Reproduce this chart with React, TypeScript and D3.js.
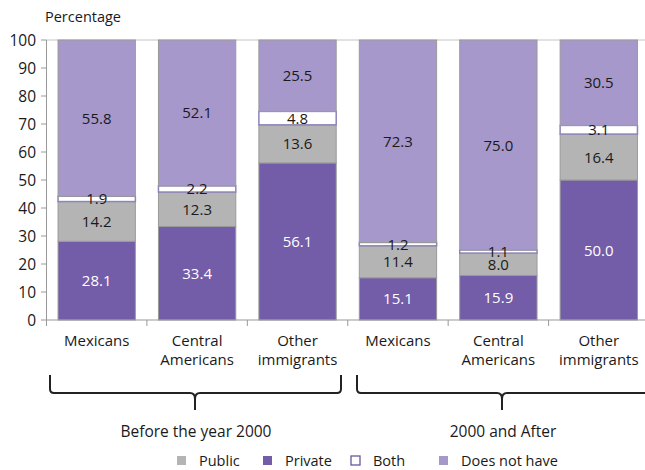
import React from "react";
import * as d3 from "d3";

const categories = ["Mexicans", "Central Americans", "Other immigrants", "Mexicans ", "Central Americans ", "Other immigrants "];
const categoryLines = [["Mexicans"], ["Central", "Americans"], ["Other", "immigrants"], ["Mexicans"], ["Central", "Americans"], ["Other", "immigrants"]];
const privateVals = [28.1, 33.4, 56.1, 15.1, 15.9, 50.0];
const publicVals = [14.2, 12.3, 13.6, 11.4, 8.0, 16.4];
const bothVals = [1.9, 2.2, 4.8, 1.2, 1.1, 3.1];
const noneVals = [55.8, 52.1, 25.5, 72.3, 75.0, 30.5];
const yTicks = [0, 10, 20, 30, 40, 50, 60, 70, 80, 90, 100];
const groups = [
  { label: "Before the year 2000", from: 0, to: 2 },
  { label: "2000 and After", from: 3, to: 5 },
];
const seriesNames = ["Private", "Public", "Both", "Does not have"];
const legendOrder = ["Public", "Private", "Both", "Does not have"];

const colors: Record<string, string> = {
  Private: "#735ca8",
  Public: "#b4b4b4",
  Both: "#ffffff",
  "Does not have": "#a698cb",
};
const textColors: Record<string, string> = {
  Private: "#ffffff",
  Public: "#1a1a1a",
  Both: "#1a1a1a",
  "Does not have": "#1a1a1a",
};

const FONT = "'Open Sans', sans-serif";

export default function App() {
  const W = 645, H = 470;
  const y = d3.scaleLinear().domain([0, 100]).range([320, 40]);
  const x = d3.scaleBand().domain(categories).range([46.5, 649]).paddingInner(0.23).paddingOuter(0.115);
  const step = x.step();
  const rows = categories.map((c, i) => ({
    cat: c,
    Private: privateVals[i],
    Public: publicVals[i],
    Both: bothVals[i],
    "Does not have": noneVals[i],
  }));
  const stacked = d3.stack<any>().keys(seriesNames)(rows);

  const braceY = 393;
  const brace = (x0: number, x1: number, xm: number) => {
    const p = d3.path();
    p.moveTo(x0, 375);
    p.lineTo(x0, braceY - 4);
    p.quadraticCurveTo(x0, braceY, x0 + 4, braceY);
    p.lineTo(xm - 5, braceY);
    p.quadraticCurveTo(xm, braceY, xm, braceY + 6);
    p.lineTo(xm, 410);
    p.moveTo(xm, braceY + 6);
    p.quadraticCurveTo(xm, braceY, xm + 5, braceY);
    p.lineTo(x1 - 4, braceY);
    p.quadraticCurveTo(x1, braceY, x1, braceY - 4);
    p.lineTo(x1, 375);
    return p.toString();
  };

  const boundaries = d3.range(categories.length + 1).map((i) => 46.5 + i * step);
  const legendX = [177, 263, 351, 439];

  return (
    <svg width={W} height={H} style={{ position: "absolute", left: 0, top: 0 }} fontFamily={FONT}>
      <rect width={W} height={H} fill="#fff" />
      <text x={45} y={22} fontSize={14.5} fill="#1a1a1a">Percentage</text>
      {/* top border */}
      <line x1={46.5} x2={W} y1={y(100)} y2={y(100)} stroke="#c4c4c4" strokeWidth={1} />
      {/* bars */}
      {stacked.map((s) => (
        <g key={s.key}>
          {s.map((d, i) => (
            <rect
              key={i}
              x={x(categories[i])!}
              width={x.bandwidth()}
              y={y(d[1])}
              height={y(d[0]) - y(d[1])}
              fill={colors[s.key]}
              stroke={s.key === "Both" ? "#8f84b8" : "#9a9a9a"}
              strokeWidth={s.key === "Both" ? 1.5 : 1}
            />
          ))}
        </g>
      ))}
      {stacked.map((s) => (
        <g key={s.key + "l"}>
          {s.map((d, i) => (
            <text
              key={i}
              x={x(categories[i])! + x.bandwidth() / 2}
              y={y((d[0] + d[1]) / 2) + 5.5}
              textAnchor="middle"
              fontSize={15}
              fill={textColors[s.key]}
            >
              {(d[1] - d[0]).toFixed(1)}
            </text>
          ))}
        </g>
      ))}
      {/* y axis */}
      <line x1={46.5} x2={46.5} y1={y(100)} y2={y(0)} stroke="#999" />
      {yTicks.map((t) => (
        <g key={t}>
          <line x1={41} x2={46.5} y1={y(t)} y2={y(t)} stroke="#999" />
          <text x={36} y={y(t) + 5.5} textAnchor="end" fontSize={15.5} fill="#1a1a1a">{t}</text>
        </g>
      ))}
      {/* x axis */}
      <line x1={46.5} x2={W} y1={y(0)} y2={y(0)} stroke="#999" />
      {boundaries.map((b, i) => (
        <line key={i} x1={b} x2={b} y1={y(0)} y2={y(0) + 6} stroke="#999" />
      ))}
      {categories.map((c, i) => (
        <text key={c} textAnchor="middle" fontSize={15} fill="#1a1a1a">
          {categoryLines[i].map((ln, j) => (
            <tspan key={j} x={x(c)! + x.bandwidth() / 2} y={346 + j * 19}>{ln}</tspan>
          ))}
        </text>
      ))}
      {/* braces */}
      {groups.map((g, gi) => {
        const x0 = gi === 0 ? 50 : 357;
        const x1 = gi === 0 ? 341 : 650;
        const xm = gi === 0 ? 195 : 502;
        return (
          <g key={g.label}>
            <path d={brace(x0, x1, xm)} fill="none" stroke="#222" strokeWidth={2} />
            <text x={xm + 1} y={437} textAnchor="middle" fontSize={15.5} fill="#1a1a1a">{g.label}</text>
          </g>
        );
      })}
      {/* legend */}
      {legendOrder.map((k, i) => (
        <g key={k}>
          <rect
            x={legendX[i]}
            y={456}
            width={9}
            height={9}
            fill={colors[k]}
            stroke={k === "Both" ? "#6b55a3" : "none"}
            strokeWidth={1.3}
          />
          <text x={legendX[i] + 22} y={466} fontSize={14.5} fill="#1a1a1a">{k}</text>
        </g>
      ))}
    </svg>
  );
}
